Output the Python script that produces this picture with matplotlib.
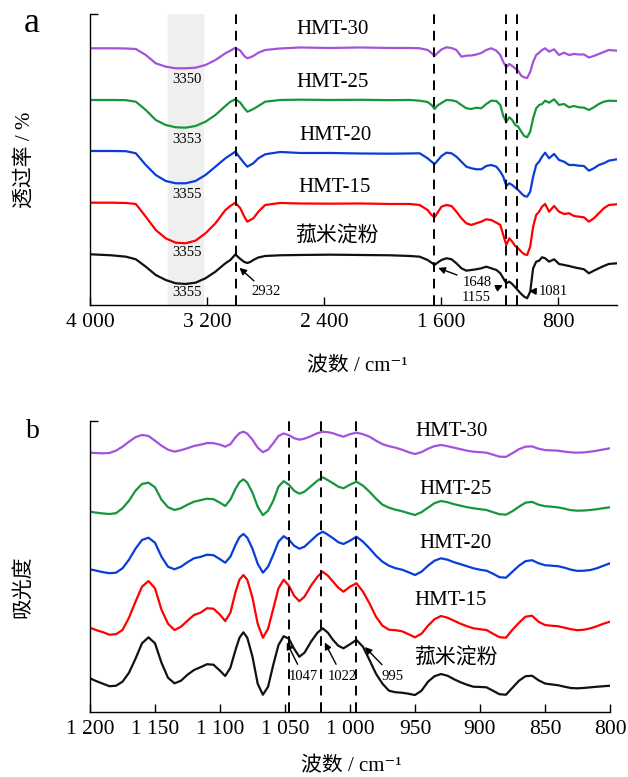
import numpy as np
import matplotlib
matplotlib.use('Agg')
import matplotlib.pyplot as plt

plt.rcParams['font.family'] = ['Liberation Serif', 'Noto Sans CJK SC', 'DejaVu Serif']

# ---- panel a: FTIR transmittance (stacked, arbitrary units) ----
wn_a = [4000, 3857, 3755, 3687, 3619, 3551, 3483, 3415, 3347, 3279,
        3211, 3143, 3075, 3041, 3007, 2973, 2946, 2925, 2905, 2884,
        2850, 2803, 2701, 2565, 2361, 2156, 1952, 1816, 1748, 1694,
        1667, 1646, 1626, 1599, 1565, 1531, 1497, 1463, 1429, 1395,
        1361, 1327, 1293, 1259, 1224, 1197, 1177, 1156, 1136, 1116,
        1095, 1075, 1054, 1034, 1014, 993, 973, 952, 932, 912,
        891, 864, 830, 796, 762, 728, 694, 660, 626, 592,
        558, 524, 490, 456, 400]

t_hmt30 = [256.7, 256.7, 256.5, 256, 250, 241.7, 238.3, 236.7, 236.7, 237.3,
           240, 245, 251.7, 254.3, 257.3, 254.3, 249, 246.7, 247.7, 249,
           252.3, 255, 256.5, 257.5, 257, 257.5, 257, 257, 256.7, 255,
           252, 249, 252, 255.5, 257.7, 257, 255, 248.3, 249.3, 249.5,
           250.5, 252, 255, 256.7, 254.3, 250, 243, 237.7, 241, 239,
           236.5, 234, 229.3, 227.5, 227, 233, 243, 250, 252.3, 255,
           256.7, 253.3, 255.7, 250, 252.3, 250, 251, 250.5, 250.5, 247.5,
           249, 251, 253, 255, 254.3]
t_hmt25 = [205, 205, 204.8, 203.3, 195, 185, 180, 177.7, 177.3, 179,
           183.3, 190, 199, 203.3, 205.7, 202.3, 196.7, 193.3, 194.5, 196,
           199, 203.3, 205, 205.3, 205, 205.2, 204.8, 205, 204.3, 203,
           200, 196, 199.5, 202, 205, 204.7, 203.5, 200, 196.7, 196,
           197.3, 196.7, 201, 204.3, 204, 200, 189, 183.3, 187.7, 185,
           180, 178.3, 173.3, 169, 167.7, 173.3, 186.7, 196.7, 200, 201,
           204.3, 202.3, 205.7, 200, 201, 197.7, 199, 197.7, 197.3, 195,
           197.7, 201, 203.3, 204.3, 204]
t_hmt20 = [154, 154, 153.8, 151.7, 140, 130, 124, 121.7, 121.7, 124,
           130, 138.3, 146.7, 150, 153.3, 146.7, 141.7, 138.3, 140, 141.7,
           146.7, 150.7, 153, 152, 152, 151.5, 151.3, 151.5, 151.7, 146.7,
           143.3, 141, 144.3, 149, 152.3, 151.7, 148.3, 143.3, 138.3, 136.7,
           135.7, 135.7, 139, 140, 138.3, 133.3, 128.3, 119, 121.7, 120,
           117.3, 115, 111.7, 109, 108.3, 113.3, 128.3, 140, 143.3, 148.3,
           152.3, 146.7, 151, 145, 143.3, 140, 140, 139.3, 139, 134.3,
           136.7, 140, 141.7, 144.3, 145.7]
t_hmt15 = [102.3, 102.3, 102, 101, 88.3, 75, 66.7, 62.3, 61.7, 64.3,
           71.7, 81.7, 95, 99, 102.3, 96.7, 88.3, 83.3, 85, 86.7,
           93.3, 100, 102, 101.5, 101.3, 101.5, 101, 101, 100, 95,
           90, 87.7, 92.3, 98.3, 100, 99, 93.3, 86.7, 81.7, 80,
           81.7, 83.3, 85.7, 85, 82.3, 80, 70, 60, 66.7, 63.3,
           59, 56.7, 53.3, 50.7, 50, 58.3, 78.3, 90, 93.3, 98.3,
           101, 93.3, 99, 93.3, 91, 91.7, 89, 88.3, 87.7, 83.3,
           86.7, 91.7, 96.7, 100, 100.7]
t_native = [50.7, 49.7, 48.3, 45.7, 38.3, 30, 25, 21.7, 21, 22.3,
            26.7, 33.3, 41.7, 45, 50.5, 46, 43, 42, 43, 45,
            47.5, 49, 49.7, 50, 50.3, 50, 49.7, 49, 48.3, 45,
            42.3, 40, 42.3, 45, 46.7, 45.7, 41.7, 36.7, 34.3, 35,
            35.7, 36.7, 38.3, 36.7, 35, 31.7, 26.7, 21.7, 23.3, 21,
            17.7, 14.3, 11, 8.3, 6.7, 13.3, 36.7, 43.3, 44.3, 47.7,
            46.7, 43.3, 45.7, 41, 40, 39, 37.7, 36.7, 35.7, 31.7,
            34.3, 36.7, 39, 41, 41.7]

# ---- panel b: deconvoluted absorbance 1200-800 ----
wn_b = [1200, 1195, 1190, 1185, 1180, 1175, 1170, 1165, 1160, 1155,
        1150, 1145, 1140, 1135, 1130, 1125, 1120, 1115, 1110, 1105, 1100,
        1096, 1092, 1088, 1085, 1082, 1079, 1075, 1071, 1067, 1063,
        1059, 1055, 1051, 1047, 1043, 1039, 1035,
        1030, 1025, 1021, 1017, 1013, 1009, 1005,
        1000, 995, 990, 985, 980, 975, 970, 965, 960, 955,
        950, 945, 940, 935, 930, 925, 920, 915, 910, 905,
        900, 895, 890, 885, 880, 875, 870, 865, 860, 855,
        850, 845, 840, 835, 830, 825, 820, 815, 810, 805, 800]

a_hmt30 = [259, 258.6, 258.4, 258.7, 261, 265, 270, 274.5, 276.7, 275.7,
           271, 266, 262, 260, 261.5, 263.5, 265.7, 267, 268.6, 268.5, 267,
           265, 267.5, 274.5, 278.5, 280, 278, 272, 264, 259.5, 262,
           268.5, 275.7, 278.2, 276.5, 273.5, 272, 273,
           275.5, 278.5, 280, 279.5, 278.4, 276.5, 275,
           277.5, 279, 277.5, 275, 271, 267.5, 265.5, 264, 262, 259.5,
           257.7, 259.5, 263, 265.5, 266.7, 265.5, 264, 262.5, 261, 260,
           259.5, 259, 257, 255, 254.8, 258.5, 262.5, 265, 265.3, 263,
           261.6, 261.3, 261, 260, 259.3, 259, 259.3, 260, 261, 262.2, 263.4]
a_hmt25 = [200, 199, 198.2, 197.7, 198.5, 203.4, 211, 221, 227.7, 229,
           224.4, 212, 204.5, 201.7, 203.5, 207, 210, 211.5, 213, 212.5, 209,
           205.7, 212, 223, 229.5, 232.4, 229, 219, 205, 196.5, 201,
           211, 225, 230.5, 227, 221, 218, 220,
           225.5, 231, 234.4, 231.5, 228.4, 225, 223.4,
           227, 230, 226, 220, 213, 207, 204, 202, 200.5, 198.5,
           196.7, 199.5, 204, 208.5, 210.7, 209.5, 207.5, 206, 204.5, 203.4,
           202.5, 201.7, 199.5, 197.5, 197, 200.5, 205, 209, 209.8, 207,
           205.5, 205, 204.3, 203, 201.5, 201, 201.2, 201.7, 202.5, 203.5, 204.4]
a_hmt20 = [142.4, 141, 139.5, 138.5, 139, 143.4, 152, 163, 171.7, 174,
           169, 155, 145, 142.4, 145, 149.5, 153.4, 154.8, 157, 156.5, 152.5,
           149, 155, 167, 174.5, 177.7, 174, 163, 148, 139, 145,
           157, 170, 175.5, 172, 166, 163, 165,
           171, 177, 180, 177, 173.4, 169.5, 167.7,
           171, 175, 170, 163.4, 156, 150, 146, 143.5, 142, 139.5,
           136.7, 140, 146, 151, 153.4, 152, 149.5, 147.5, 145.5, 143.4,
           142, 141, 138, 134.5, 134, 140, 146, 150.5, 151.5, 148.5,
           146.5, 146, 145.5, 144, 142, 140.8, 141, 141.7, 143.5, 146, 148.4]
a_hmt15 = [84, 81.5, 79.5, 77, 77.5, 81.7, 94, 110, 125, 130.7,
           123.4, 102, 88, 81.7, 85, 91, 96.7, 99, 103.5, 103, 97,
           90.7, 99, 120, 132, 136.7, 132, 114, 88, 74, 83,
           103, 123.4, 132, 126, 116, 110.5, 115,
           126, 135, 140, 136, 130, 124, 120,
           125, 128.4, 120, 108.4, 95, 86, 82, 81.5, 80.5, 77.5,
           74.4, 78, 86, 92.5, 95.7, 94, 91, 88, 85.5, 83.4,
           82.5, 81.7, 78, 74.5, 74, 82, 89, 95, 96, 90,
           86.7, 86, 85.5, 84, 82.5, 81.5, 82, 83.4, 85.5, 88, 90]
a_native = [33.4, 30.5, 28, 25.5, 26, 30, 39, 53, 68.4, 74.4,
            68.4, 49, 34, 28.4, 31, 37, 41.7, 44.5, 47.5, 47, 41,
            35.7, 44, 62, 74, 79.4, 74, 55, 28, 17, 25,
            47, 66.7, 75.5, 73, 63, 55, 59,
            70, 79, 83.4, 79, 71.7, 66, 63.4,
            67.5, 71.7, 65, 51.7, 38, 28, 21, 19.5, 19, 18,
            16.7, 21, 30, 35.5, 37.7, 36, 32.5, 29.5, 27, 25,
            24.8, 24.4, 21, 17.5, 17, 24, 31, 35.5, 36, 31.5,
            28.2, 27.3, 26.5, 25, 23.7, 23.4, 23.8, 24.4, 25, 25.5, 26]

names = ['HMT-30', 'HMT-25', 'HMT-20', 'HMT-15', '菰米淀粉']
colors = ['#a352dc', '#16963c', '#0a3cd8', '#ff0000', '#111111']
series_a = [t_hmt30, t_hmt25, t_hmt20, t_hmt15, t_native]
series_b = [a_hmt30, a_hmt25, a_hmt20, a_hmt15, a_native]

lines_a = [3005, 1648, 1155, 1081]
lines_b = [1047, 1022, 995]

fig = plt.figure(figsize=(6.28, 7.77), dpi=100)
ax1 = fig.add_axes([0.1433, 0.6075, 0.8392, 0.3745])
ax2 = fig.add_axes([0.1433, 0.0840, 0.8280, 0.3746])

dash = (0, (5, 3.5))
lab_fs = 15
tick_fs = 15.5
peak_fs = 10.5
xlab = '波数 / cm⁻¹'

for ax in (ax1, ax2):
    ax.spines['top'].set_visible(False)
    ax.spines['right'].set_visible(False)
    ax.spines['left'].set_linewidth(1.0)
    ax.spines['bottom'].set_linewidth(1.0)
    ax.tick_params(direction='in', length=6, width=1.0, labelsize=tick_fs, pad=6)
    ax.set_ylim(0, 291)
    ax.set_yticks([291])
    ax.set_yticklabels([''])

# panel a
ax1.axvspan(3465, 3227, color='#efefef', zorder=0)
for y, c in zip(series_a, colors):
    ax1.plot(wn_a, y, color=c, lw=1.6)
for x in lines_a:
    ax1.axvline(x, color='k', lw=1.4, ls=dash)
ax1.set_xlim(4000, 400)
ax1.set_xticks([4000, 3200, 2400, 1600, 800])
ax1.set_xticklabels(['4 000', '3 200', '2 400', '1 600', '800'])
lab_a = [(2340, 275), (2340, 222), (2323, 169), (2327, 117), (2316, 69)]
for (x, y), n in zip(lab_a, names):
    ax1.text(x, y, n, fontsize=lab_fs, ha='center', va='center')
for y, t in zip([225, 165, 110, 52, 12], ['3350', '3353', '3355', '3355', '3355']):
    ax1.text(3340, y, t, fontsize=peak_fs, ha='center', va='center')
arrow = dict(arrowstyle='-|>', color='k', lw=1.0, mutation_scale=10)
ax1.annotate('2932', xy=(2993, 39), xytext=(2796, 13), fontsize=peak_fs,
             ha='center', va='center', arrowprops=arrow)
ax1.annotate('1648', xy=(1639, 38), xytext=(1357, 22.5), fontsize=peak_fs,
             ha='center', va='center', arrowprops=arrow)
ax1.annotate('1155', xy=(1163, 21), xytext=(1361, 7.5), fontsize=peak_fs,
             ha='center', va='center', arrowprops=arrow)
ax1.annotate('1081', xy=(1020, 14), xytext=(837, 13), fontsize=peak_fs,
             ha='center', va='center', arrowprops=arrow)
ax1.set_xlabel(xlab, fontsize=lab_fs, va='center')
ax1.xaxis.set_label_coords(0.5076, -0.213)
ax1.set_ylabel('透过率 / %', fontsize=lab_fs, va='center')
ax1.yaxis.set_label_coords(-0.123, 0.498)

# panel b
for y, c in zip(series_b, colors):
    ax2.plot(wn_b, y, color=c, lw=1.6)
for x in lines_b:
    ax2.axvline(x, color='k', lw=1.4, ls=dash)
ax2.set_xlim(1200, 800)
ticks_b = [1200, 1150, 1100, 1050, 1000, 950, 900, 850, 800]
ax2.set_xticks(ticks_b)
ax2.set_xticklabels(['1 200', '1 150', '1 100', '1 050', '1 000', '950', '900', '850', '800'])
lab_b = [(922, 280), (919, 222.4), (918.5, 167.7), (923, 111.7), (919, 53.4)]
for (x, y), n in zip(lab_b, names):
    ax2.text(x, y, n, fontsize=lab_fs, ha='center', va='center')
ax2.annotate('1047', xy=(1049.6, 71.7), xytext=(1035.8, 35.7), fontsize=peak_fs,
             ha='center', va='center', arrowprops=arrow)
ax2.annotate('1022', xy=(1020.4, 71.7), xytext=(1006, 35.7), fontsize=peak_fs,
             ha='center', va='center', arrowprops=arrow)
ax2.annotate('995', xy=(990, 66.7), xytext=(967, 35.7), fontsize=peak_fs,
             ha='center', va='center', arrowprops=arrow)
ax2.set_xlabel(xlab, fontsize=lab_fs, va='center')
ax2.xaxis.set_label_coords(0.502, -0.19)
ax2.set_ylabel('吸光度', fontsize=lab_fs, va='center')
ax2.yaxis.set_label_coords(-0.127, 0.428)

fig.text(32 / 628, 1 - 24 / 777, 'a', fontsize=26, ha='center', va='center')
fig.text(33 / 628, 1 - 432 / 777, 'b', fontsize=20, ha='center', va='center')

fig.savefig('out.png', dpi=100)
